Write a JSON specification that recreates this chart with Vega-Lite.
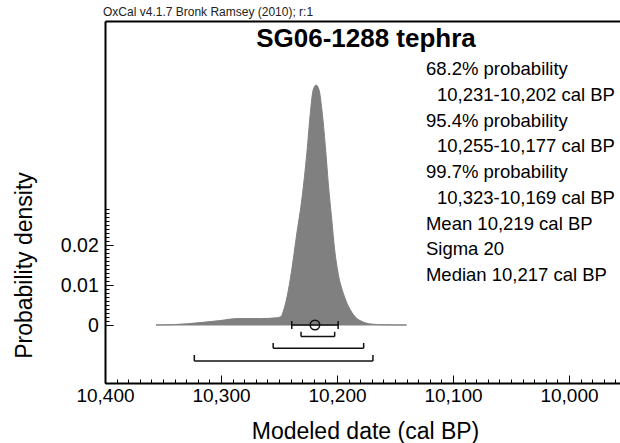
{
  "$schema": "https://vega.github.io/schema/vega-lite/v6.json",
  "width": 515,
  "height": 362,
  "autosize": {"type": "none"},
  "padding": {"left": 105, "top": 21, "right": 0, "bottom": 60},
  "background": "white",
  "config": {
    "view": {"stroke": null},
    "font": "Liberation Sans",
    "axis": {"grid": false}
  },
  "datasets": {
    "density": [
      {"year": 10356, "density": 0},
      {"year": 10340, "density": 0.0001},
      {"year": 10318, "density": 0.0006},
      {"year": 10301, "density": 0.0011},
      {"year": 10286, "density": 0.0016},
      {"year": 10266, "density": 0.0016},
      {"year": 10252, "density": 0.0018},
      {"year": 10248, "density": 0.0022},
      {"year": 10246, "density": 0.0037},
      {"year": 10243, "density": 0.0071},
      {"year": 10239, "density": 0.0138},
      {"year": 10235, "density": 0.0221},
      {"year": 10230, "density": 0.0321},
      {"year": 10226, "density": 0.0429},
      {"year": 10223, "density": 0.0529},
      {"year": 10220.5, "density": 0.0588},
      {"year": 10218, "density": 0.06},
      {"year": 10215.5, "density": 0.0588},
      {"year": 10213, "density": 0.0538},
      {"year": 10210, "density": 0.0446},
      {"year": 10207.5, "density": 0.0354},
      {"year": 10204.5, "density": 0.0263},
      {"year": 10202, "density": 0.0188},
      {"year": 10199, "density": 0.0129},
      {"year": 10194.5, "density": 0.0079},
      {"year": 10190, "density": 0.0046},
      {"year": 10184.5, "density": 0.0021},
      {"year": 10177, "density": 0.0007},
      {"year": 10169, "density": 0.0002},
      {"year": 10159, "density": 0.00005},
      {"year": 10140, "density": 0}
    ],
    "summary": [
      {"mean": 10219, "lo": 10239, "hi": 10199, "density": 0}
    ],
    "ranges": [
      {"level": "68.2%", "from": 10231, "to": 10202, "bar": -0.0029, "tip": -0.0017},
      {"level": "95.4%", "from": 10255, "to": 10177, "bar": -0.0058, "tip": -0.0045},
      {"level": "99.7%", "from": 10323, "to": 10169, "bar": -0.009, "tip": -0.0075}
    ]
  },
  "resolve": {"axis": {"x": "independent", "y": "independent"}},
  "layer": [
    {
      "data": {"name": "density"},
      "mark": {"type": "area", "color": "#808080", "stroke": "#808080", "strokeWidth": 1, "interpolate": "monotone"},
      "encoding": {
        "x": {
          "field": "year", "type": "quantitative",
          "scale": {"domain": [9956, 10400], "reverse": true, "nice": false, "zero": false},
          "axis": {
            "orient": "bottom", "offset": -8, "domain": false,
            "values": [10400, 10300, 10200, 10100, 10000],
            "format": ",.0f",
            "tickSize": 8, "tickWidth": 1, "tickColor": "#000",
            "labelFontSize": 19, "labelColor": "#000", "labelPadding": 3,
            "labelFlush": false, "labelOverlap": false,
            "title": "Modeled date (cal BP)",
            "titleFontSize": 23, "titleFontWeight": "normal", "titleColor": "#000",
            "titleBaseline": "alphabetic", "titleY": 63, "titleX": 260
          }
        },
        "y": {
          "field": "density", "type": "quantitative",
          "scale": {"domain": [-0.0145, 0.076], "nice": false, "zero": false},
          "axis": {
            "orient": "left", "offset": -8, "domain": false,
            "values": [0, 0.01, 0.02],
            "format": "~g",
            "tickSize": 8, "tickWidth": 1, "tickColor": "#000",
            "labelFontSize": 19.5, "labelColor": "#000", "labelPadding": 6.7,
            "labelFlush": false, "labelOverlap": false,
            "title": "Probability density",
            "titleFontSize": 23, "titleFontWeight": "normal", "titleColor": "#000",
            "titleAngle": -90, "titleAlign": "center", "titleBaseline": "alphabetic",
            "titleX": -81.3, "titleY": 244
          }
        }
      }
    },
    {
      "data": {"name": "summary"},
      "mark": {"type": "rule", "color": "#111", "strokeWidth": 1.5},
      "encoding": {
        "x": {
          "field": "lo", "type": "quantitative",
          "axis": {
            "orient": "bottom", "offset": -4, "domain": false,
            "values": [10400,10390,10380,10370,10360,10350,10340,10330,10320,10310,10300,10290,10280,10270,10260,10250,10240,10230,10220,10210,10200,10190,10180,10170,10160,10150,10140,10130,10120,10110,10100,10090,10080,10070,10060,10050,10040,10030,10020,10010,10000,9990,9980,9970,9960],
            "tickSize": 4, "tickWidth": 1, "tickColor": "#000",
            "labels": false, "title": null
          }
        },
        "x2": {"field": "hi"},
        "y": {
          "field": "density", "type": "quantitative",
          "axis": {
            "orient": "left", "offset": -4, "domain": false,
            "values": [0.001,0.002,0.003,0.004,0.005,0.006,0.007,0.008,0.009,0.011,0.012,0.013,0.014,0.015,0.016,0.017,0.018,0.019,0.021,0.022,0.023,0.024,0.025,0.026,0.027,0.028,0.029],
            "tickSize": 4, "tickWidth": 1, "tickColor": "#000",
            "labels": false, "title": null
          }
        }
      }
    },
    {
      "data": {"name": "summary"},
      "mark": {"type": "rule", "color": "#111", "strokeWidth": 1.5},
      "encoding": {
        "x": {
          "field": "lo", "type": "quantitative",
          "axis": {
            "orient": "top", "domain": true, "domainColor": "#000", "domainWidth": 2,
            "ticks": false, "labels": false, "title": null
          }
        },
        "y": {
          "datum": -0.001, "type": "quantitative",
          "axis": {
            "orient": "left", "domain": true, "domainColor": "#000", "domainWidth": 2,
            "ticks": false, "labels": false, "title": null
          }
        },
        "y2": {"datum": 0.001}
      }
    },
    {
      "data": {"name": "summary"},
      "mark": {"type": "rule", "color": "#111", "strokeWidth": 1.5},
      "encoding": {
        "x": {
          "field": "hi", "type": "quantitative",
          "axis": {
            "orient": "bottom", "domain": true, "domainColor": "#000", "domainWidth": 2,
            "ticks": false, "labels": false, "title": null
          }
        },
        "y": {"datum": -0.001, "type": "quantitative", "axis": null},
        "y2": {"datum": 0.001}
      }
    },
    {
      "data": {"name": "summary"},
      "mark": {"type": "point", "shape": "circle", "filled": false, "stroke": "#111", "strokeWidth": 1.5, "size": 90, "opacity": 1},
      "encoding": {
        "x": {"field": "mean", "type": "quantitative", "axis": null},
        "y": {"field": "density", "type": "quantitative", "axis": null}
      }
    },
    {
      "data": {"name": "ranges"},
      "mark": {"type": "rule", "color": "#111", "strokeWidth": 1.5},
      "encoding": {
        "x": {"field": "from", "type": "quantitative", "axis": null},
        "x2": {"field": "to"},
        "y": {"field": "bar", "type": "quantitative", "axis": null}
      }
    },
    {
      "data": {"name": "ranges"},
      "mark": {"type": "rule", "color": "#111", "strokeWidth": 1.5},
      "encoding": {
        "x": {"field": "from", "type": "quantitative", "axis": null},
        "y": {"field": "bar", "type": "quantitative", "axis": null},
        "y2": {"field": "tip"}
      }
    },
    {
      "data": {"name": "ranges"},
      "mark": {"type": "rule", "color": "#111", "strokeWidth": 1.5},
      "encoding": {
        "x": {"field": "to", "type": "quantitative", "axis": null},
        "y": {"field": "bar", "type": "quantitative", "axis": null},
        "y2": {"field": "tip"}
      }
    },
    {
      "data": {"values": [{}]},
      "mark": {"type": "text", "text": "OxCal v4.1.7 Bronk Ramsey (2010); r:1", "fontSize": 12, "align": "left", "baseline": "alphabetic", "color": "#222"},
      "encoding": {
        "x": {"datum": 10401.7, "type": "quantitative", "axis": null},
        "y": {"datum": 0.07725, "type": "quantitative", "axis": null}
      }
    },
    {
      "data": {"values": [{}]},
      "mark": {"type": "text", "text": "SG06-1288 tephra", "fontSize": 26, "fontWeight": "bold", "align": "center", "baseline": "alphabetic", "color": "#000"},
      "encoding": {
        "x": {"datum": 10175, "type": "quantitative", "axis": null},
        "y": {"datum": 0.0695, "type": "quantitative", "axis": null}
      }
    },
    {
      "data": {"values": [{}]},
      "mark": {"type": "text", "text": ["68.2% probability", "95.4% probability", "99.7% probability", "Mean 10,219 cal BP"], "fontSize": 18.5, "lineHeight": 51.5, "align": "left", "baseline": "alphabetic", "color": "#000"},
      "encoding": {
        "x": {"datum": 10123.3, "type": "quantitative", "axis": null},
        "y": {"datum": 0.0625, "type": "quantitative", "axis": null}
      }
    },
    {
      "data": {"values": [{}]},
      "mark": {"type": "text", "text": ["Sigma 20", "Median 10,217 cal BP"], "fontSize": 18.5, "lineHeight": 25.75, "align": "left", "baseline": "alphabetic", "color": "#000"},
      "encoding": {
        "x": {"datum": 10123.3, "type": "quantitative", "axis": null},
        "y": {"datum": 0.01744, "type": "quantitative", "axis": null}
      }
    },
    {
      "data": {"values": [{}]},
      "mark": {"type": "text", "text": ["10,231-10,202 cal BP", "10,255-10,177 cal BP", "10,323-10,169 cal BP"], "fontSize": 18.5, "lineHeight": 51.5, "align": "left", "baseline": "alphabetic", "color": "#000"},
      "encoding": {
        "x": {"datum": 10113.8, "type": "quantitative", "axis": null},
        "y": {"datum": 0.05606, "type": "quantitative", "axis": null}
      }
    }
  ]
}
